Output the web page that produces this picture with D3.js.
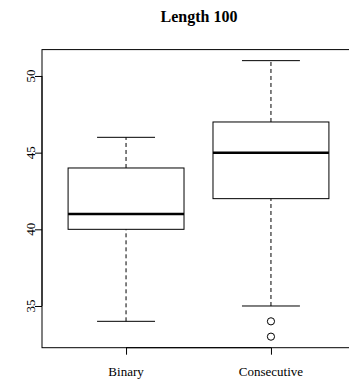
<!DOCTYPE html>
<html><head><meta charset="utf-8">
<script src="https://cdn.jsdelivr.net/npm/d3@7"></script>
<style>body{margin:0;background:#fff}svg{display:block}text{font-family:"Liberation Serif","Times New Roman",serif}</style>
</head><body>
<svg id="c" width="349" height="383"></svg>
<script>
const title = "Length 100";
const categories = ["Binary", "Consecutive"];
const whiskerLow = [34, 35];
const q1 = [40, 42];
const median = [41, 45];
const q3 = [44, 47];
const whiskerHigh = [46, 51];
const outliers = [[], [34, 33]];
const yTicks = [35, 40, 45, 50];

(function () {
const svg = d3.select("#c");
const mLeft = 42, mTop = 49.6, mBottom = 347.7, mRight = 355;
const x = d3.scaleLinear().domain([0.42, 2.58]).range([mLeft, mRight]);
const y = d3.scaleLinear().domain([32.28, 51.72]).range([mBottom, mTop]);

svg.append("text").attr("x", 199).attr("y", 22).attr("text-anchor", "middle")
  .attr("font-weight", "bold").attr("font-size", 16).text(title);

const g = svg.append("g");
categories.forEach((c, i) => {
  const cx = x(i + 1), hw = x(1.4) - x(1), cw = x(1.2) - x(1);
  g.append("line").attr("x1", cx).attr("x2", cx).attr("y1", y(whiskerLow[i])).attr("y2", y(q1[i]))
    .attr("stroke", "#000").attr("stroke-dasharray", "4,3");
  g.append("line").attr("x1", cx).attr("x2", cx).attr("y1", y(q3[i])).attr("y2", y(whiskerHigh[i]))
    .attr("stroke", "#000").attr("stroke-dasharray", "4,3");
  [whiskerLow[i], whiskerHigh[i]].forEach(v => g.append("line").attr("x1", cx - cw).attr("x2", cx + cw)
    .attr("y1", y(v)).attr("y2", y(v)).attr("stroke", "#000"));
  g.append("rect").attr("x", cx - hw).attr("width", 2 * hw).attr("y", y(q3[i]))
    .attr("height", y(q1[i]) - y(q3[i])).attr("fill", "none").attr("stroke", "#000");
  g.append("line").attr("x1", cx - hw).attr("x2", cx + hw).attr("y1", y(median[i])).attr("y2", y(median[i]))
    .attr("stroke", "#000").attr("stroke-width", 2.5);
  outliers[i].forEach(v => g.append("circle").attr("cx", cx).attr("cy", y(v)).attr("r", 3.6)
    .attr("fill", "none").attr("stroke", "#000"));
});

svg.append("rect").attr("x", mLeft).attr("y", mTop).attr("width", mRight - mLeft).attr("height", mBottom - mTop)
  .attr("fill", "none").attr("stroke", "#000");

const ya = svg.append("g").attr("transform", `translate(${mLeft},0)`)
  .call(d3.axisLeft(y).tickValues(yTicks).tickSize(7).tickFormat(d3.format("d")));
ya.select(".domain").attr("d", `M0,${y(35)}V${y(50)}`);
ya.selectAll("text").remove();
yTicks.forEach(t => svg.append("text").attr("transform", `translate(35,${y(t)}) rotate(-90)`)
  .attr("text-anchor", "middle").attr("font-size", 13).text(t));

const xa = svg.append("g").attr("transform", `translate(0,${mBottom})`)
  .call(d3.axisBottom(x).tickValues([1, 2]).tickSize(7).tickFormat(""));
xa.select(".domain").attr("d", `M${x(1)},0H${x(2)}`);
categories.forEach((c, i) => svg.append("text").attr("x", x(i + 1)).attr("y", 376)
  .attr("text-anchor", "middle").attr("font-size", 13).text(c));
svg.selectAll(".tick line").attr("stroke", "#000");
})();
</script>
</body></html>
